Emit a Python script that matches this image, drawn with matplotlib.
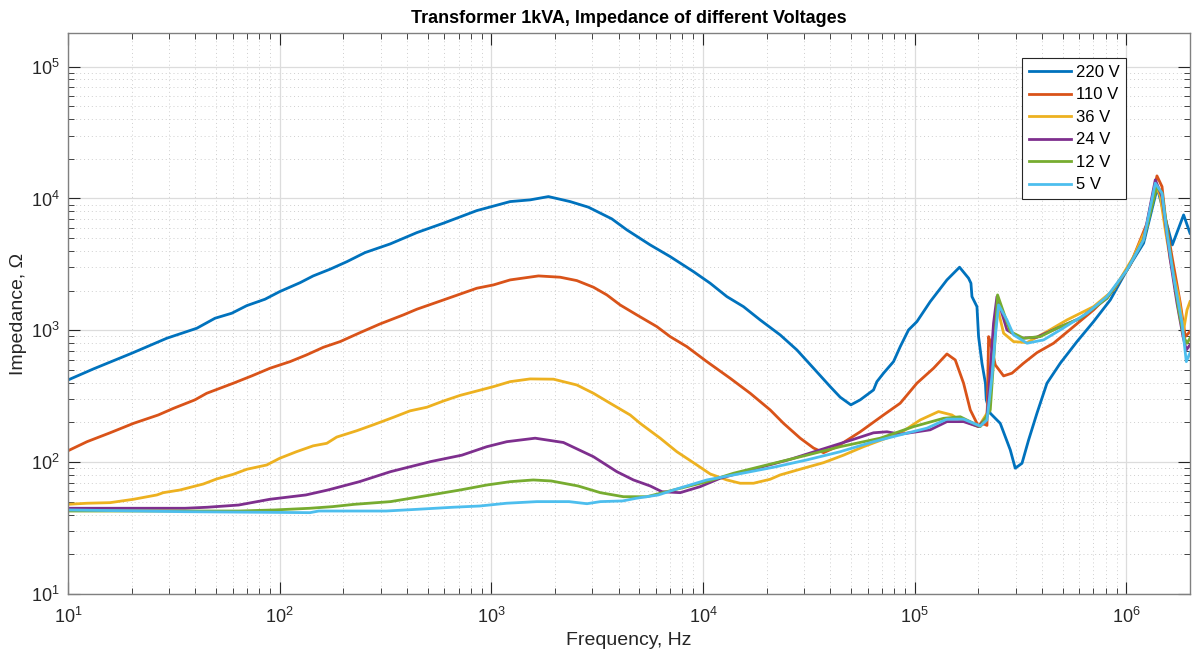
import numpy as np
import matplotlib
matplotlib.use("Agg")
import matplotlib.pyplot as plt
from matplotlib.ticker import LogLocator, NullFormatter

plt.rcParams["font.family"] = ["Liberation Sans", "DejaVu Sans"]
plt.rcParams["mathtext.fontset"] = "custom"
plt.rcParams["mathtext.rm"] = "Liberation Sans"
plt.rcParams["mathtext.it"] = "Liberation Sans:italic"
plt.rcParams["mathtext.bf"] = "Liberation Sans:bold"

# ── Measured impedance curves: (frequency Hz, impedance Ohm) ─────────────────
v220 = [(10, 420), (13.2, 510), (20, 670), (29.3, 871), (40.6, 1037), (49.5, 1235),
        (59.4, 1348), (69.9, 1539), (85.3, 1722), (100, 1966), (125, 2300), (144, 2586),
        (173, 2907), (208, 3320), (253, 3886), (333, 4524), (445, 5512), (594, 6496),
        (854, 8094), (1227, 9474), (1525, 9759), (1861, 10340), (2357, 9474), (2876, 8591),
        (3711, 7003), (4369, 5779), (5631, 4446), (6998, 3625), (9019, 2788), (10815, 2277),
        (12970, 1802), (15540, 1512), (18630, 1199), (23160, 923), (27780, 710), (33290, 516),
        (39920, 374), (44500, 311), (49980, 272), (55330, 297), (63940, 353), (66330, 408),
        (71290, 473), (79480, 579), (85500, 752), (93590, 1007), (102500, 1164), (118500, 1651),
        (142100, 2412), (163000, 3011), (179800, 2485), (184500, 2277), (186600, 1802),
        (197000, 1512), (200500, 896), (208000, 563), (216000, 397), (218000, 297),
        (227700, 235), (253800, 197), (268100, 156), (283000, 124), (298800, 90),
        (321500, 98), (345400, 147), (378400, 235), (421900, 397), (487600, 563),
        (584800, 821), (700400, 1164), (840300, 1700), (1008000, 2872), (1207000, 4580),
        (1401000, 12030), (1650000, 4446), (1866000, 7509), (2000000, 5454)]

v110 = [(10, 122), (12.3, 143), (15.8, 167), (20.4, 197), (26.7, 228), (31.5, 256),
        (39.8, 297), (45.2, 333), (60.4, 397), (73.8, 451), (90.1, 516), (112, 579),
        (134, 651), (161, 744), (193, 821), (240, 961), (298, 1118), (384, 1309), (445, 1446),
        (594, 1700), (854, 2086), (1023, 2210), (1227, 2412), (1670, 2586), (2114, 2529),
        (2535, 2384), (3038, 2123), (3515, 1856), (4061, 1558), (4870, 1309), (6054, 1067),
        (6998, 896), (8392, 752), (10430, 579), (13440, 433), (16720, 333), (20780, 249),
        (24020, 197), (28800, 152), (33290, 128), (37110, 118), (42940, 131), (55330, 170),
        (71290, 228), (85500, 280), (102500, 397), (122900, 516), (142100, 662),
        (155600, 596), (170300, 397), (183200, 249), (200500, 186), (212000, 195),
        (219700, 190), (223600, 896), (227700, 821), (240400, 547), (263200, 451),
        (288300, 473), (327000, 563), (378400, 677), (453300, 798), (563500, 1067),
        (700400, 1428), (871000, 2025), (1044000, 3135), (1253000, 6496), (1396000, 14840),
        (1475000, 12310), (1529000, 7289), (1644000, 3625), (1800000, 1605),
        (1900000, 896), (2000000, 978)]

v36 = [(10, 47.9), (12.3, 48.8), (15.8, 49.3), (20.4, 52.3), (26.3, 56.4), (28.2, 58.7),
       (33.8, 61.5), (43.6, 68.3), (50.4, 74.6), (60.4, 80.9), (69.9, 88.3), (86.9, 95.2),
       (100, 107), (120, 120), (144, 133), (167, 139), (186, 155), (231, 173), (277, 192),
       (345, 219), (413, 245), (496, 261), (594, 291), (712, 321), (1023, 374), (1227, 408),
       (1525, 428), (1966, 426), (2535, 385), (3038, 333), (3642, 280), (4529, 228),
       (5050, 197), (6278, 152), (7527, 120), (9359, 95.2), (10815, 81.4), (12970, 73.3),
       (14990, 69.2), (17330, 69.2), (20780, 74.2), (23160, 80), (29850, 89.9),
       (37110, 99.1), (46130, 113), (57350, 131), (66330, 143), (85500, 166),
       (106300, 209), (129700, 242), (150100, 228), (158500, 215), (200500, 186),
       (219700, 235), (236000, 896), (244900, 1550), (263200, 951), (293400, 821),
       (339500, 807), (421900, 978), (524400, 1199), (700400, 1512), (871000, 2025),
       (1083000, 3625), (1253000, 6122), (1371000, 13070), (1448000, 10340),
       (1529000, 5779), (1614000, 3421), (1767000, 1802), (1866000, 1007),
       (1936000, 1428), (2000000, 1651)]

v24 = [(10, 44.7), (35.7, 44.7), (45.5, 45.5), (64, 47.3), (89.9, 52.3), (133, 56.4),
       (169, 61.5), (238, 71.1), (334, 84.7), (517, 101), (726, 113), (952, 131),
       (1184, 143), (1611, 152), (2191, 141), (3038, 110), (3918, 84.7), (4693, 73.3),
       (5631, 66), (6396, 59.7), (7804, 58.7), (9700, 65.2), (12060, 75.5), (17980, 89.9),
       (25830, 105), (35800, 124), (51440, 149), (63940, 167), (73960, 170), (85500, 163),
       (102500, 170), (118500, 176), (142100, 203), (170300, 203), (200500, 186),
       (219700, 221), (236000, 1132), (244900, 1802), (273000, 1007), (315600, 871),
       (378400, 887), (470400, 1037), (606300, 1235), (810400, 1752), (1008000, 2872),
       (1207000, 4852), (1371000, 13840), (1475000, 10340), (1614000, 3421),
       (1736000, 1605), (1854000, 896), (1921000, 710), (2000000, 775)]

v12 = [(10, 42.6), (64, 42.6), (94.4, 43.4), (139, 44.7), (178, 46), (226, 47.9),
       (334, 50.2), (517, 56.4), (712, 61.5), (952, 67.1), (1227, 71.1), (1579, 73.3),
       (1919, 72), (2568, 66), (3275, 58.7), (4210, 54.7), (5431, 54.7), (7254, 61.5),
       (10430, 71.1), (13940, 82.4), (20040, 95.2), (30970, 113), (44500, 131),
       (68790, 152), (98810, 186), (137000, 215), (164300, 221), (204200, 186),
       (227700, 249), (240400, 896), (246500, 1856), (283000, 978), (327000, 871),
       (392300, 896), (470400, 1037), (606300, 1235), (810400, 1752), (1008000, 2872),
       (1207000, 4852), (1396000, 12310), (1475000, 10970), (1614000, 3846),
       (1767000, 1428), (1866000, 896), (1936000, 798), (2000000, 871)]

v5 = [(10, 43.4), (35.7, 42.1), (139, 41.4), (153, 42.6), (318, 42.6), (447, 43.9),
      (659, 45.5), (882, 46.5), (1180, 48.8), (1641, 50.2), (2329, 50.2), (2830, 48.4),
      (3275, 50.2), (4173, 50.8), (4829, 53.2), (6156, 56.4), (7254, 61.5), (10430, 73.3),
      (14460, 80.9), (21540, 91.5), (30970, 104), (44500, 120), (63940, 143),
      (91960, 166), (114300, 181), (142100, 212), (170300, 212), (204200, 188),
      (219700, 209), (231900, 445), (240400, 896), (249200, 1558), (273000, 1199),
      (293400, 923), (339500, 798), (406600, 846), (487600, 1007), (652000, 1348),
      (810400, 1802), (1008000, 2872), (1207000, 4852), (1371000, 13070),
      (1475000, 10970), (1557000, 5454), (1673000, 2555), (1834000, 1132),
      (1921000, 579), (2000000, 674)]

series = [v220, v110, v36, v24, v12, v5]
labels = ["220 V", "110 V", "36 V", "24 V", "12 V", "5 V"]
colors = ["#0072BD", "#D95319", "#EDB120", "#7E2F8E", "#77AC30", "#4DBEEE"]

# ── Plot ──────────────────────────────────────────────────────────────────────
fig = plt.figure(figsize=(11.92, 6.54), dpi=100)
ax = fig.add_axes([68 / 1192, 60 / 654, 1122 / 1192, 561 / 654])

for data, lab, col in zip(series, labels, colors):
    arr = np.array(data, dtype=float)
    ax.plot(arr[:, 0], arr[:, 1], color=col, linewidth=2.0, label=lab)

ax.set_xscale("log")
ax.set_yscale("log")
ax.set_xlim(10, 2e6)
ax.set_ylim(10, 1.8e5)

ax.xaxis.set_major_locator(LogLocator(base=10, numticks=20))
ax.xaxis.set_minor_locator(LogLocator(base=10, subs=np.arange(2, 10), numticks=20))
ax.yaxis.set_major_locator(LogLocator(base=10, numticks=20))
ax.yaxis.set_minor_locator(LogLocator(base=10, subs=np.arange(2, 10), numticks=20))
ax.xaxis.set_minor_formatter(NullFormatter())
ax.yaxis.set_minor_formatter(NullFormatter())

ax.set_axisbelow(True)
ax.grid(which="major", color="#dcdcdc", linestyle="-", linewidth=0.9)
ax.grid(which="minor", color="#cfcfcf", linestyle=(0, (1, 3)), linewidth=0.7)

ax.tick_params(which="both", direction="in", top=True, right=True, colors="#262626",
               labelsize=13)
ax.tick_params(which="major", length=8.5, width=0.8)
ax.tick_params(which="minor", length=4.2, width=0.6)
ax.tick_params(axis="x", which="major", pad=9)
ax.tick_params(axis="y", which="major", pad=6)
for sp in ax.spines.values():
    sp.set_color("#808080")
    sp.set_linewidth(1.0)

ax.set_xlabel("Frequency, Hz", fontsize=14, color="#262626", labelpad=4)
ax.set_ylabel("Impedance, Ω", fontsize=14, color="#262626", labelpad=3)
ax.set_title("Transformer 1kVA, Impedance of different Voltages",
             fontsize=13, fontweight="bold", pad=7)

leg = ax.legend(loc="upper right", bbox_to_anchor=(0.943, 0.955), fontsize=12,
                fancybox=False, framealpha=1, edgecolor="#262626",
                handlelength=2.5, handletextpad=0.3, labelspacing=0.45,
                borderpad=0.4, borderaxespad=0)
leg.get_frame().set_linewidth(0.8)

fig.savefig("out.png", dpi=100)
